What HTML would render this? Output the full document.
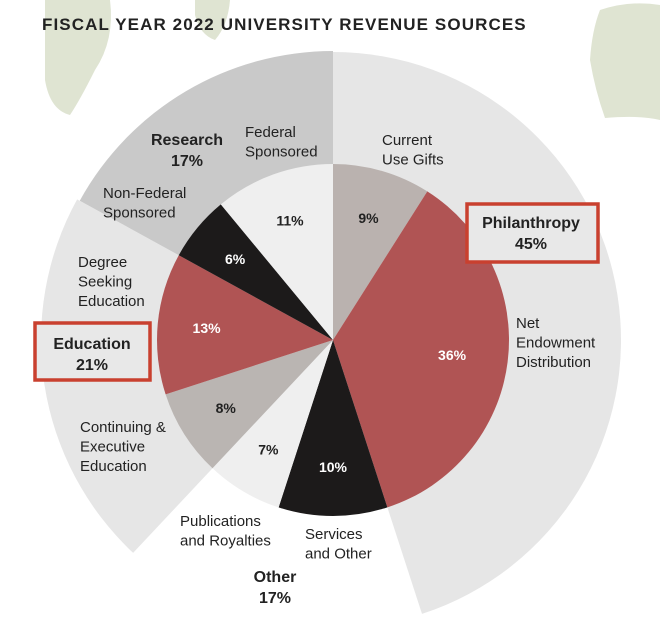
<!DOCTYPE html>
<html><head><meta charset="utf-8"><style>
html,body{margin:0;padding:0;background:#fff;}
svg{display:block;font-family:"Liberation Sans",sans-serif;}
</style></head><body>
<svg id="chart" width="660" height="644" viewBox="0 0 660 644">
  <path d="M45 0 L110 0 Q115 40 95 70 Q80 100 70 115 Q50 110 45 80 Z" fill="#dfe4d2"/>
  <path d="M195 0 L230 0 Q228 25 215 40 Q200 35 195 15 Z" fill="#dfe4d2"/>
  <path d="M600 10 Q630 0 660 5 L660 120 Q640 115 605 118 Q595 90 590 60 Q592 30 600 10 Z" fill="#dfe4d2"/>
  <text x="42" y="30" font-size="17" font-weight="bold" fill="#222" letter-spacing="1.1">FISCAL YEAR 2022 UNIVERSITY REVENUE SOURCES</text>
  <g id="outer"></g>
  <g id="inner"></g>
  <g id="labels"></g>
</svg>
<script>
const outerCats = ["Philanthropy","Other","Education","Research"];
const outerVals = [45,17,21,17];
const innerCats = ["Current Use Gifts","Net Endowment Distribution","Services and Other","Publications and Royalties","Continuing & Executive Education","Degree Seeking Education","Non-Federal Sponsored","Federal Sponsored"];
const innerVals = [9,36,10,7,8,13,6,11];
const innerLabels = ["9%","36%","10%","7%","8%","13%","6%","11%"];

const cx=333, cy=340;
const outerR=[288,0,292,289];
const outerFill=["#e6e6e6","#ffffff","#e6e6e6","#c9c9c9"];
const innerR=176;
const innerFill=["#bab2af","#b05454","#1c1a1a","#efefef","#bab5b2","#b05454","#1c1a1a","#efefef"];
const innerText=["#222","#fff","#fff","#222","#222","#fff","#fff","#222"];
const NS="http://www.w3.org/2000/svg";
function ang(p){return p/100*2*Math.PI;}
function pt(a,r){return [cx+r*Math.sin(a), cy-r*Math.cos(a)];}
function wedge(a0,a1,r){
  const p0=pt(a0,r),p1=pt(a1,r);const large=(a1-a0)>Math.PI?1:0;
  return `M${cx} ${cy} L${p0[0]} ${p0[1]} A${r} ${r} 0 ${large} 1 ${p1[0]} ${p1[1]} Z`;
}
let acc=0;
const og=document.getElementById('outer');
outerVals.forEach((v,i)=>{
  const a0=ang(acc),a1=ang(acc+v);acc+=v;
  if(outerR[i]<=0) return;
  const p=document.createElementNS(NS,'path');
  p.setAttribute('d',wedge(a0,a1,outerR[i]));
  p.setAttribute('fill',outerFill[i]);
  
  
  og.appendChild(p);
});
acc=0;
const ig=document.getElementById('inner');
const lg=document.getElementById('labels');
innerVals.forEach((v,i)=>{
  const a0=ang(acc),a1=ang(acc+v);acc+=v;
  const p=document.createElementNS(NS,'path');
  p.setAttribute('d',wedge(a0,a1,innerR));
  p.setAttribute('fill',innerFill[i]);
  
  
  ig.appendChild(p);
  const am=(a0+a1)/2;const lp=pt(am, v>20?120:127);
  const t=document.createElementNS(NS,'text');
  t.setAttribute('x',lp[0]);t.setAttribute('y',lp[1]+5);
  t.setAttribute('text-anchor','middle');t.setAttribute('font-size','14');
  t.setAttribute('font-weight','bold');t.setAttribute('fill',innerText[i]);
  t.textContent=innerLabels[i];
  
  
  lg.appendChild(t);
});
function txt(lines,x,y,opt){
  const t=document.createElementNS(NS,'text');
  t.setAttribute('x',x);t.setAttribute('y',y);
  t.setAttribute('font-size',opt.size||15);t.setAttribute('fill','#222');
  if(opt.bold)t.setAttribute('font-weight','bold');
  if(opt.anchor)t.setAttribute('text-anchor',opt.anchor);
  lines.forEach((l,k)=>{const s=document.createElementNS(NS,'tspan');s.setAttribute('x',x);s.setAttribute('dy',k?(opt.lh||19.5):0);s.textContent=l;t.appendChild(s);});
  
  
  lg.appendChild(t);
}
function box(x,y,w,h,name){
  const r=document.createElementNS(NS,'rect');
  r.setAttribute('x',x);r.setAttribute('y',y);r.setAttribute('width',w);r.setAttribute('height',h);
  r.setAttribute('fill','#e8e8e8');r.setAttribute('stroke','#c9402f');r.setAttribute('stroke-width','3.5');
  
  
  lg.appendChild(r);
}
box(467,204,131,58,'philanthropy-box');
box(35,323,115,57,'education-box');
txt(["Research","17%"],187,145,{bold:1,anchor:'middle',size:16,lh:21,name:'research-label'});
txt(["Federal","Sponsored"],245,137,{name:'federal-sponsored-label'});
txt(["Current","Use Gifts"],382,145,{name:'current-use-gifts-label'});
txt(["Non-Federal","Sponsored"],103,198,{name:'non-federal-label'});
txt(["Philanthropy","45%"],531,228,{bold:1,anchor:'middle',size:16,lh:21,name:'philanthropy-label'});
txt(["Degree","Seeking","Education"],78,267,{name:'degree-seeking-label'});
txt(["Education","21%"],92,349,{bold:1,anchor:'middle',size:16,lh:21,name:'education-label'});
txt(["Net","Endowment","Distribution"],516,328,{name:'net-endowment-label'});
txt(["Continuing &","Executive","Education"],80,432,{name:'continuing-education-label'});
txt(["Publications","and Royalties"],180,526,{name:'publications-label'});
txt(["Services","and Other"],305,539,{name:'services-label'});
txt(["Other","17%"],275,582,{bold:1,anchor:'middle',size:16,lh:21,name:'other-label'});
</script>
</body></html>
